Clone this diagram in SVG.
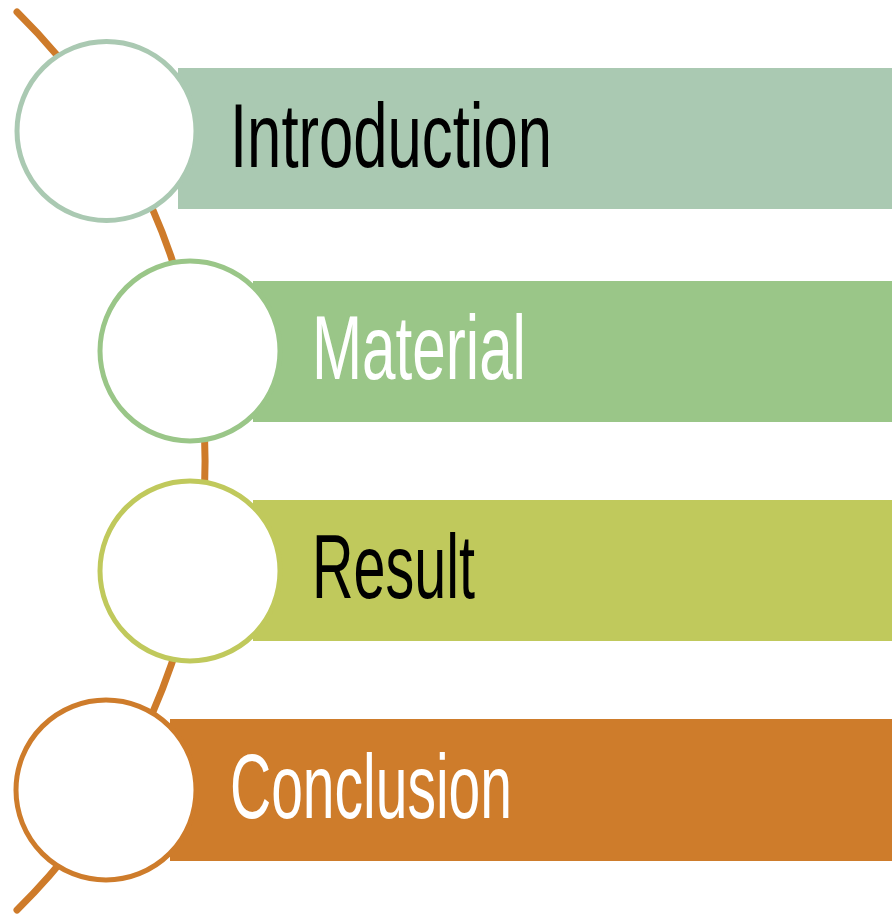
<svg xmlns="http://www.w3.org/2000/svg" width="892" height="915" viewBox="0 0 892 915">
  <style>
    .ring { fill: #FFFFFF; stroke-width: 5; }
    .label { font-family: "Liberation Sans", "DejaVu Sans Condensed", sans-serif; font-size: 90px; }
    .spine { fill: none; stroke: #CE7B2A; stroke-width: 7; stroke-linecap: round; }
  </style>
  <rect width="892" height="915" fill="#FFFFFF"/>

  <!-- curved spine running behind the circles -->
  <g id="connectors">
    <path class="spine" d="M 17 12 A 630 630 0 0 1 17 910"/>
  </g>

  <g id="introduction">
    <rect x="178" y="68" width="714" height="141" fill="#AAC9B2"/>
    <circle class="ring" cx="106.5" cy="131" r="89.5" stroke="#AAC9B2"/>
    <text class="label" x="230" y="167" fill="#000000" textLength="322" lengthAdjust="spacingAndGlyphs">Introduction</text>
  </g>

  <g id="material">
    <rect x="253" y="281" width="639" height="141" fill="#9AC688"/>
    <circle class="ring" cx="190" cy="351" r="90" stroke="#9AC688"/>
    <text class="label" x="312" y="379" fill="#FFFFFF" textLength="214" lengthAdjust="spacingAndGlyphs">Material</text>
  </g>

  <g id="result">
    <rect x="253" y="500" width="639" height="141" fill="#C0C95C"/>
    <circle class="ring" cx="190" cy="571" r="90" stroke="#C0C95C"/>
    <text class="label" x="312" y="598" fill="#000000" textLength="163" lengthAdjust="spacingAndGlyphs">Result</text>
  </g>

  <g id="conclusion">
    <rect x="170" y="719" width="722" height="142" fill="#CE7C2B"/>
    <circle class="ring" cx="106" cy="790" r="90" stroke="#CE7C2B"/>
    <text class="label" x="230" y="818" fill="#FFFFFF" textLength="282" lengthAdjust="spacingAndGlyphs">Conclusion</text>
  </g>
</svg>
